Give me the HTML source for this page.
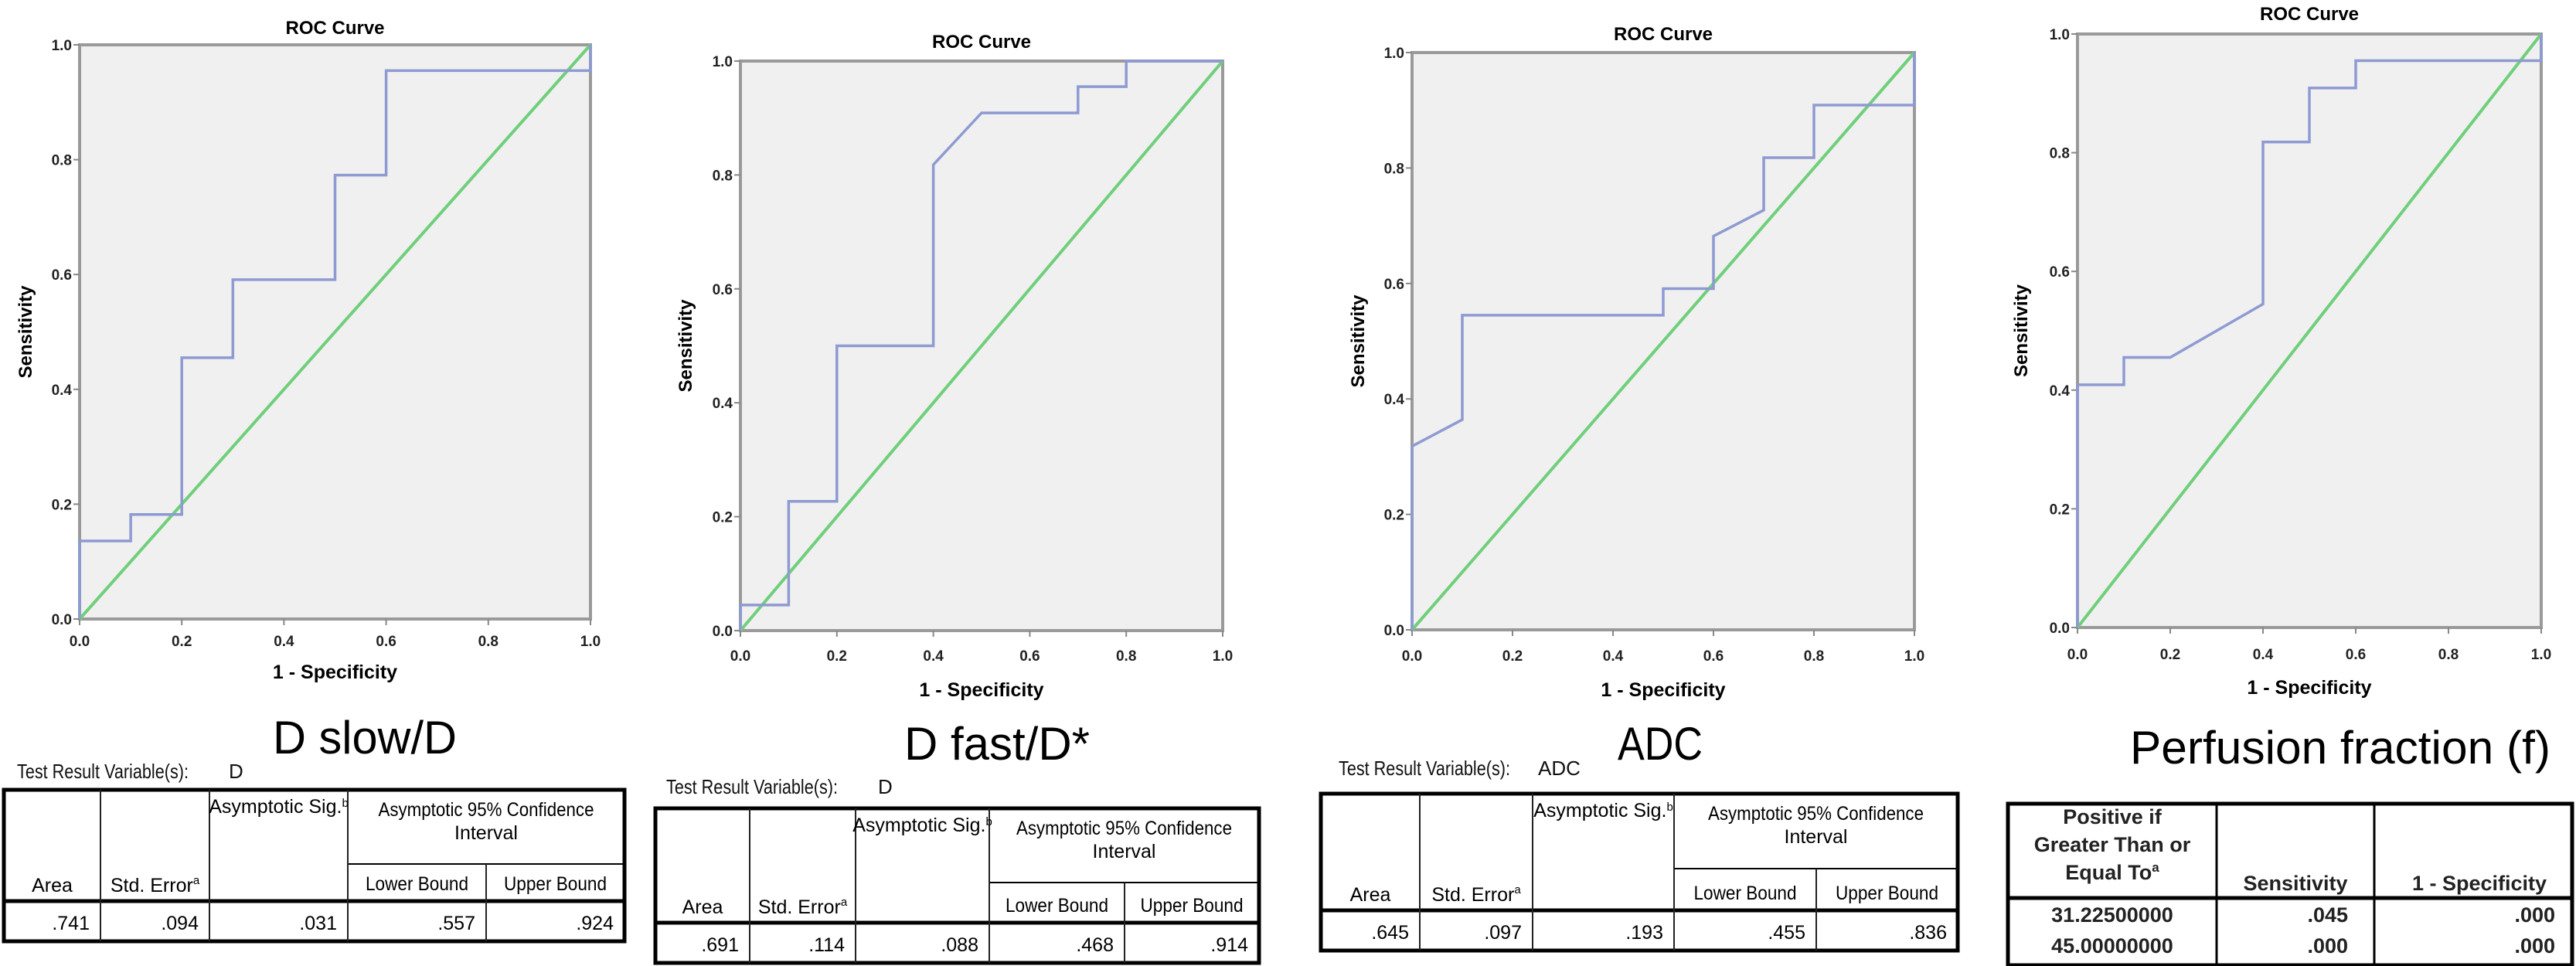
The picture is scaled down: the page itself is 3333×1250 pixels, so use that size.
<!DOCTYPE html>
<html><head><meta charset="utf-8"><style>
html,body{margin:0;padding:0;background:#fff;width:3333px;height:1250px;overflow:hidden}
svg{display:block}
text{font-family:"Liberation Sans",Arial,sans-serif}
</style></head><body>
<svg id="s" width="3333" height="1250" viewBox="0 0 3333 1250" xmlns="http://www.w3.org/2000/svg"></svg>
<script>
const ticks = [0, 0.2, 0.4, 0.6, 0.8, 1.0];
const tickLabels = ["0.0", "0.2", "0.4", "0.6", "0.8", "1.0"];
const fpr1 = [0, 0, 0.1, 0.1, 0.2, 0.2, 0.3, 0.3, 0.5, 0.5, 0.6, 0.6, 1, 1];
const tpr1 = [0, 0.136, 0.136, 0.182, 0.182, 0.455, 0.455, 0.591, 0.591, 0.773, 0.773, 0.955, 0.955, 1];
const fpr2 = [0, 0, 0.1, 0.1, 0.2, 0.2, 0.4, 0.4, 0.5, 0.7, 0.7, 0.8, 0.8, 1];
const tpr2 = [0, 0.045, 0.045, 0.227, 0.227, 0.5, 0.5, 0.818, 0.909, 0.909, 0.955, 0.955, 1, 1];
const fpr3 = [0, 0, 0.1, 0.1, 0.5, 0.5, 0.6, 0.6, 0.7, 0.7, 0.8, 0.8, 1, 1];
const tpr3 = [0, 0.318, 0.364, 0.545, 0.545, 0.591, 0.591, 0.682, 0.727, 0.818, 0.818, 0.909, 0.909, 1];
const fpr4 = [0, 0, 0.1, 0.1, 0.2, 0.4, 0.4, 0.5, 0.5, 0.6, 0.6, 1, 1];
const tpr4 = [0, 0.409, 0.409, 0.455, 0.455, 0.545, 0.818, 0.818, 0.909, 0.909, 0.955, 0.955, 1];
const refX = [0, 1];
const refY = [0, 1];

const NS = "http://www.w3.org/2000/svg";
const svg = document.getElementById('s');
function mk(tag, attrs, parent, txt){
  const e = document.createElementNS(NS, tag);
  for (const k in attrs) e.setAttribute(k, attrs[k]);
  if (txt !== undefined) e.textContent = txt;
  (parent || svg).appendChild(e);
  return e;
}

const panels = [
  {fpr: fpr1, tpr: tpr1, L:103, R:764, T:58, B:801, titleY:36, xlY:829, xtY:869, ylX:41, label:"D slow/D", lx:472, ly:975},
  {fpr: fpr2, tpr: tpr2, L:958, R:1582, T:79, B:816, titleY:54, xlY:848, xtY:892, ylX:895, label:"D fast/D*", lx:1290, ly:983},
  {fpr: fpr3, tpr: tpr3, L:1827, R:2477, T:68, B:815, titleY:44, xlY:848, xtY:892, ylX:1765, label:"ADC", lx:2148, ly:983},
  {fpr: fpr4, tpr: tpr4, L:2688, R:3288, T:44, B:812, titleY:18, xlY:846, xtY:889, ylX:2623, label:"Perfusion fraction (f)", lx:3028, ly:988}
];

panels.forEach((p, i) => {
  const g = mk('g', {});
  
  
  const sx = v => p.L + v * (p.R - p.L);
  const sy = v => p.B - v * (p.B - p.T);
  const bg = mk('rect', {x:p.L, y:p.T, width:p.R-p.L, height:p.B-p.T, fill:'#f0f0f0', stroke:'#9a9a9a', 'stroke-width':4}, g);
  
  
  const t = mk('text', {x:(p.L+p.R)/2, y:p.titleY+8, 'text-anchor':'middle', 'font-size':24, 'font-weight':'bold'}, g, 'ROC Curve');
  
  
  ticks.forEach((v, k) => {
    mk('line', {x1:p.L-8, x2:p.L, y1:sy(v), y2:sy(v), stroke:'#888', 'stroke-width':2}, g);
    mk('line', {x1:sx(v), x2:sx(v), y1:p.B, y2:p.B+8, stroke:'#888', 'stroke-width':2}, g);
    const yl = mk('text', {x:p.L-10, y:sy(v)+7, 'text-anchor':'end', 'font-size':19, 'font-weight':'bold', fill:'#222'}, g, tickLabels[k]);
    
    
    const xl = mk('text', {x:sx(v), y:p.xlY+7, 'text-anchor':'middle', 'font-size':19, 'font-weight':'bold', fill:'#222'}, g, tickLabels[k]);
    
    
  });
  const xt = mk('text', {x:(p.L+p.R)/2, y:p.xtY+9, 'text-anchor':'middle', 'font-size':25, 'font-weight':'bold'}, g, '1 - Specificity');
  
  
  const cy = (p.T+p.B)/2;
  const yt = mk('text', {x:p.ylX, y:cy, 'text-anchor':'middle', 'font-size':24, 'font-weight':'bold', transform:`rotate(-90 ${p.ylX} ${cy})`}, g, 'Sensitivity');
  
  
  const ref = mk('polyline', {points: refX.map((x,k)=>sx(x)+','+sy(refY[k])).join(' '), fill:'none', stroke:'#6fcf7a', 'stroke-width':4}, g);
  
  
  const roc = mk('polyline', {points: p.fpr.map((x,k)=>sx(x)+','+sy(p.tpr[k])).join(' '), fill:'none', stroke:'#8e9ad2', 'stroke-width':3.5}, g);
  
  
  const lab = mk('text', {x:p.lx, y:p.ly, 'text-anchor':'middle', 'font-size':60, fill:'#000', textLength: i===3 ? 544 : (i===0?238:(i===1?240:110)), lengthAdjust:'spacingAndGlyphs'}, g, p.label);
  
  
});

// AUC tables
const tables = [
  {L:5, R:808, T:1022, HB:1166, B:1218, SUB:1118, cols:[130,271,450,629], vals:[".741",".094",".031",".557",".924"], tx:22, ty:998, v:"D", vo:274},
  {L:848, R:1629, T:1046, HB:1194, B:1246, SUB:1142, cols:[970,1107,1280,1455], vals:[".691",".114",".088",".468",".914"], tx:862, ty:1018, v:"D", vo:274},
  {L:1709, R:2533, T:1027, HB:1178, B:1230, SUB:1124, cols:[1837,1983,2166,2350], vals:[".645",".097",".193",".455",".836"], tx:1732, ty:994, v:"ADC", vo:258}
];
tables.forEach((tb, i) => {
  const g = mk('g', {});
  
  
  const tr = mk('text', {x:tb.tx, y:tb.ty+9, 'font-size':26, fill:'#111', textLength:222, lengthAdjust:'spacingAndGlyphs'}, g, 'Test Result Variable(s):');
  
  
  mk('text', {x:tb.tx+tb.vo, y:tb.ty+9, 'font-size':26, fill:'#111'}, g, tb.v);
  mk('rect', {x:tb.L, y:tb.T, width:tb.R-tb.L, height:tb.B-tb.T, fill:'#fff', stroke:'#000', 'stroke-width':5}, g);
  mk('line', {x1:tb.L, x2:tb.R, y1:tb.HB, y2:tb.HB, stroke:'#000', 'stroke-width':5}, g);
  mk('line', {x1:tb.cols[2], x2:tb.R, y1:tb.SUB, y2:tb.SUB, stroke:'#000', 'stroke-width':2}, g);
  tb.cols.forEach((c, k) => {
    mk('line', {x1:c, x2:c, y1: k===3 ? tb.SUB : tb.T, y2:tb.B, stroke:'#222', 'stroke-width':2}, g);
  });
  const edges = [tb.L, ...tb.cols, tb.R];
  const fs = 25;
  const la = 'spacingAndGlyphs';
  mk('text', {x:(edges[0]+edges[1])/2, y:tb.HB-12, 'text-anchor':'middle', 'font-size':fs}, g, 'Area');
  const se = mk('text', {x:(edges[1]+edges[2])/2, y:tb.HB-12, 'text-anchor':'middle', 'font-size':fs}, g, 'Std. Error');
  mk('tspan', {dy:-10, 'font-size':15}, se, 'a');
  const as = mk('text', {x:(edges[2]+edges[3])/2, y:tb.T+30, 'text-anchor':'middle', 'font-size':fs}, g, 'Asymptotic Sig.');
  mk('tspan', {dy:-8, 'font-size':15}, as, 'b');
  mk('text', {x:(edges[3]+edges[5])/2, y:tb.T+34, 'text-anchor':'middle', 'font-size':fs, textLength:279, lengthAdjust:la}, g, 'Asymptotic 95% Confidence');
  mk('text', {x:(edges[3]+edges[5])/2, y:tb.T+64, 'text-anchor':'middle', 'font-size':fs}, g, 'Interval');
  mk('text', {x:(edges[3]+edges[4])/2, y:tb.HB-14, 'text-anchor':'middle', 'font-size':fs, textLength:133, lengthAdjust:la}, g, 'Lower Bound');
  mk('text', {x:(edges[4]+edges[5])/2, y:tb.HB-14, 'text-anchor':'middle', 'font-size':fs, textLength:133, lengthAdjust:la}, g, 'Upper Bound');
  tb.vals.forEach((v, k) => {
    const c = mk('text', {x:edges[k+1]-14, y:tb.B-15, 'text-anchor':'end', 'font-size':fs}, g, v);
    
    
  });
});

// Coordinates table (panel 4)
const coordThresh = ["31.22500000", "45.00000000"];
const coordSens = [".045", ".000"];
const coordSpec = [".000", ".000"];
(function(){
  const g = mk('g', {});
  
  
  const L=2598, R=3328, T=1040, HB=1162, B=1249, c1=2868, c2=3072;
  mk('rect', {x:L, y:T, width:R-L, height:B-T, fill:'#fff', stroke:'#000', 'stroke-width':5}, g);
  mk('line', {x1:L, x2:R, y1:HB, y2:HB, stroke:'#000', 'stroke-width':5}, g);
  mk('line', {x1:c1, x2:c1, y1:T, y2:B, stroke:'#000', 'stroke-width':3}, g);
  mk('line', {x1:c2, x2:c2, y1:T, y2:B, stroke:'#000', 'stroke-width':3}, g);
  const fs = 27, st = {'font-size':fs, 'font-weight':'bold', fill:'#222'};
  const cx = (L+c1)/2;
  mk('text', Object.assign({x:cx, y:1066, 'text-anchor':'middle'}, st), g, 'Positive if');
  mk('text', Object.assign({x:cx, y:1102, 'text-anchor':'middle'}, st), g, 'Greater Than or');
  const eq = mk('text', Object.assign({x:cx, y:1138, 'text-anchor':'middle'}, st), g, 'Equal To');
  mk('tspan', {dy:-10, 'font-size':17}, eq, 'a');
  mk('text', Object.assign({x:(c1+c2)/2, y:1152, 'text-anchor':'middle'}, st), g, 'Sensitivity');
  mk('text', Object.assign({x:(c2+R)/2+8, y:1152, 'text-anchor':'middle'}, st), g, '1 - Specificity');
  coordThresh.forEach((v, k) => {
    const y = 1193 + k*40;
    mk('text', Object.assign({x:cx, y:y, 'text-anchor':'middle'}, st), g, v);
    mk('text', Object.assign({x:c1+170, y:y, 'text-anchor':'end'}, st), g, coordSens[k]);
    mk('text', Object.assign({x:R-22, y:y, 'text-anchor':'end'}, st), g, coordSpec[k]);
  });
})();
</script>
</body></html>
